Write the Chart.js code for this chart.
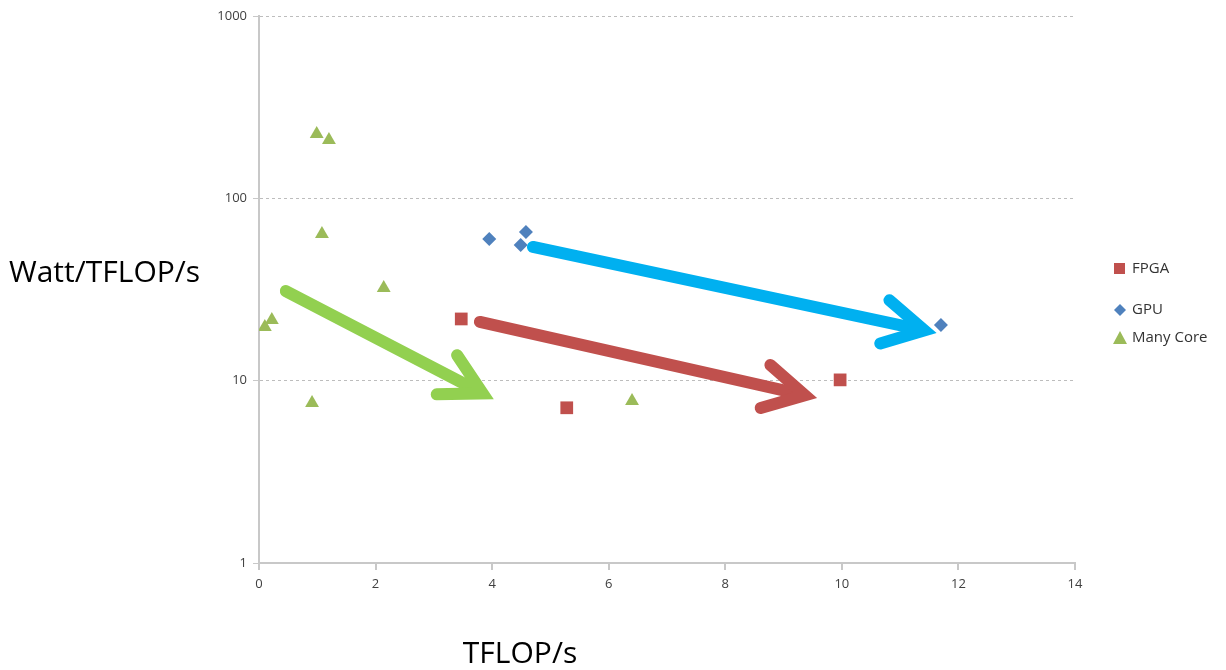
<!DOCTYPE html>
<html lang="en">
<head>
<meta charset="UTF-8">
<title>Watt/TFLOP/s vs TFLOP/s</title>
<style>
    html, body { margin: 0; padding: 0; background: #fff; }
    .wrap { width: 1226px; height: 670px; position: relative; }
</style>
</head>
<body>
<div class="wrap"><canvas id="chart"></canvas></div>
<script src="https://cdn.jsdelivr.net/npm/chart.js"></script>
<script>
    // data
    const fpgaX = [3.47, 5.28, 9.97];
    const fpgaY = [21.8, 7.1, 10.1];
    const gpuX = [3.95, 4.58, 4.49, 11.7];
    const gpuY = [59.8, 65.4, 55.5, 20.2];
    const manyX = [0.99, 1.2, 1.08, 2.14, 0.1, 0.22, 0.91, 6.4];
    const manyY = [225, 209, 63.7, 32.2, 19.7, 21.5, 7.55, 7.73];
    const yTicks = [1, 10, 100, 1000];

    // trend arrows, in data units: [x0, y0, x1, y1]
    const arrowGreen = [0.46, 31.0, 3.96, 8.13];
    const arrowBlue = [4.70, 54.1, 11.55, 18.5];
    const arrowRed = [3.79, 21.0, 9.50, 8.13];

    const toPoints = (xs, ys) => xs.map((x, i) => ({ x: x, y: ys[i] }));

    const extras = {
        id: 'extras',
        afterDatasetsDraw(chart) {
            const c = chart.ctx;
            const sx = chart.scales.x, sy = chart.scales.y;
            function arrow(a, color) {
                const x0 = sx.getPixelForValue(a[0]), y0 = sy.getPixelForValue(a[1]);
                let x1 = sx.getPixelForValue(a[2]), y1 = sy.getPixelForValue(a[3]);
                const dir = Math.atan2(y1 - y0, x1 - x0);
                // pull the tip back a bit so the joined stroke ends at the point
                x1 -= 8 * Math.cos(dir);
                y1 -= 8 * Math.sin(dir);
                const ang = dir + Math.PI;
                const len = 46, spread = 0.5;
                c.save();
                c.strokeStyle = color;
                c.lineWidth = 12;
                c.lineCap = 'round';
                c.lineJoin = 'miter';
                c.miterLimit = 3;
                c.beginPath();
                c.moveTo(x0, y0);
                c.lineTo(x1 - 6 * Math.cos(dir), y1 - 6 * Math.sin(dir));
                c.stroke();
                c.beginPath();
                c.moveTo(x1 + len * Math.cos(ang - spread), y1 + len * Math.sin(ang - spread));
                c.lineTo(x1, y1);
                c.lineTo(x1 + len * Math.cos(ang + spread), y1 + len * Math.sin(ang + spread));
                c.stroke();
                c.restore();
            }
            arrow(arrowGreen, '#92D050');
            arrow(arrowBlue, '#00B0F0');
            arrow(arrowRed, '#C0504D');

            // axis titles
            c.save();
            c.fillStyle = '#000';
            c.font = '30px "Open Sans", sans-serif';
            c.textBaseline = 'middle';
            c.textAlign = 'left';
            c.fillText('Watt/TFLOP/s', 9, 273);
            c.textAlign = 'center';
            c.fillText('TFLOP/s', 520, 654);

            // legend
            c.font = '15px "Open Sans", sans-serif';
            c.textAlign = 'left';
            c.fillStyle = '#333';
            c.fillText('FPGA', 1132, 269);
            c.fillText('GPU', 1132, 310);
            c.fillText('Many Core', 1132, 338);
            c.fillStyle = '#C0504D';
            c.fillRect(1114, 263, 11, 11);
            c.fillStyle = '#4F81BD';
            c.beginPath();
            c.moveTo(1120, 304); c.lineTo(1126, 310); c.lineTo(1120, 316); c.lineTo(1114, 310);
            c.closePath(); c.fill();
            c.fillStyle = '#9BBB59';
            c.beginPath();
            c.moveTo(1120, 331); c.lineTo(1127, 344); c.lineTo(1113, 344);
            c.closePath(); c.fill();
            c.restore();
        }
    };

    new Chart(document.getElementById('chart'), {
        type: 'scatter',
        data: {
            datasets: [
                { label: 'FPGA', data: toPoints(fpgaX, fpgaY), pointStyle: 'rect', pointRadius: 9,
                  backgroundColor: '#C0504D', borderColor: '#C0504D', borderWidth: 0 },
                { label: 'GPU', data: toPoints(gpuX, gpuY), pointStyle: 'rectRot', pointRadius: 7,
                  backgroundColor: '#4F81BD', borderColor: '#4F81BD', borderWidth: 0 },
                { label: 'Many Core', data: toPoints(manyX, manyY), pointStyle: 'triangle', pointRadius: 8,
                  backgroundColor: '#9BBB59', borderColor: '#9BBB59', borderWidth: 0 }
            ]
        },
        options: {
            responsive: true,
            maintainAspectRatio: false,
            animation: false,
            layout: { padding: { top: 16, right: 151, left: 0, bottom: 0 } },
            plugins: { legend: { display: false }, tooltip: { enabled: false } },
            scales: {
                x: {
                    type: 'linear', min: 0, max: 14,
                    afterFit(s) { s.height = 107; },
                    ticks: { stepSize: 2, color: '#404040', font: { size: 13, family: '"Open Sans", sans-serif' }, padding: 6 },
                    grid: { drawOnChartArea: false, drawTicks: true, tickLength: 7, color: '#c8c8c8', lineWidth: 2 },
                    border: { display: true, color: '#c8c8c8', width: 2 }
                },
                y: {
                    type: 'logarithmic', min: 1, max: 1000,
                    afterFit(s) { s.width = 259; },
                    afterBuildTicks(s) { s.ticks = yTicks.map(v => ({ value: v })); },
                    ticks: { color: '#404040', font: { size: 13, family: '"Open Sans", sans-serif' }, padding: 6,
                             callback: v => String(v) },
                    grid: { drawOnChartArea: true, drawTicks: true, tickLength: 6, color: '#bdbdbd', lineWidth: 1,
                            tickColor: '#c8c8c8' },
                    border: { display: true, color: '#c8c8c8', width: 2, dash: [3, 3] }
                }
            }
        },
        plugins: [extras]
    });
</script>
</body>
</html>
